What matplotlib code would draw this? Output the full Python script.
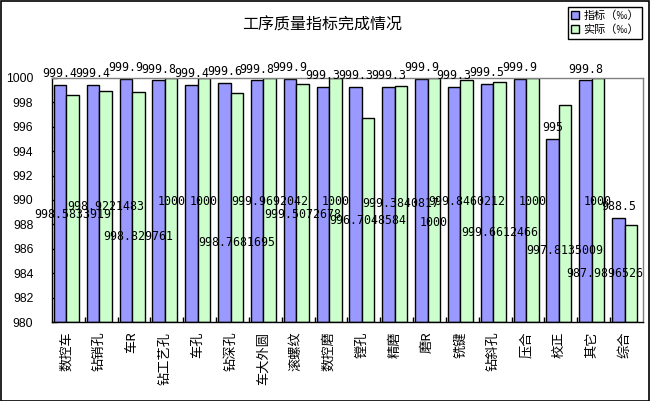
import matplotlib
matplotlib.use('Agg')
import matplotlib.pyplot as plt
from matplotlib.patches import Rectangle
import numpy as np

plt.rcParams['font.family'] = ['Noto Sans CJK SC', 'DejaVu Sans']

# data
categories = ['数控车', '钻销孔', '车R', '钻工艺孔', '车孔', '钻深孔', '车大外圆', '滚螺纹', '数控磨',
              '镗孔', '精磨', '磨R', '铣键', '钻斜孔', '压合', '校正', '其它', '综合']
target = [999.4, 999.4, 999.9, 999.8, 999.4, 999.6, 999.8, 999.9, 999.3,
          999.3, 999.3, 999.9, 999.3, 999.5, 999.9, 995, 999.8, 988.5]
actual = [998.5833919, 998.9221483, 998.829761, 1000, 1000, 998.7681695, 999.9692042, 999.5072678, 1000,
          996.7048584, 999.3840817, 1000, 999.8460212, 999.6612466, 1000, 997.8135009, 1000, 987.9896526]
target_text = ['999.4', '999.4', '999.9', '999.8', '999.4', '999.6', '999.8', '999.9', '999.3',
               '999.3', '999.3', '999.9', '999.3', '999.5', '999.9', '995', '999.8', '988.5']
actual_text = ['998.5833919', '998.9221483', '998.829761', '1000', '1000', '998.7681695', '999.9692042',
               '999.5072678', '1000', '996.7048584', '999.3840817', '1000', '999.8460212', '999.6612466',
               '1000', '997.8135009', '1000', '987.9896526']
# where the (oddly placed) labels of the actual series sit on the y axis
actual_label_y = [988.8, 989.45, 987.0, 989.9, 989.9, 986.5, 989.9, 988.8, 989.9,
                  988.3, 989.7, 988.15, 989.9, 987.35, 989.9, 985.85, 989.9, 983.95]

blue = '#9999FF'
green = '#CCFFCC'

fig = plt.figure(figsize=(6.5, 4.01), dpi=100)
ax = fig.add_axes([0.08, 0.197, 0.9092, 0.6085])

x = np.arange(len(categories))
w = 0.38
xmax = 17.56
bars_t = ax.bar(x - w / 2, np.array(target) - 980, w, bottom=980, color=blue,
                edgecolor='black', linewidth=1.0, label='指标（‰）', zorder=2)
bars_a = ax.bar(x + w / 2, np.array(actual) - 980, w, bottom=980, color=green,
                edgecolor='black', linewidth=1.0, label='实际（‰）', zorder=2)

for i in range(len(categories)):
    ax.annotate(target_text[i], (x[i] - w / 2, target[i]), xytext=(0, 3.5),
                textcoords='offset points', ha='center', va='bottom',
                family='DejaVu Sans Mono', fontsize=8.4, zorder=4, annotation_clip=False)
    if i == len(categories) - 1:
        # the last label is pushed back inside the plot area
        ax.text(xmax, actual_label_y[i], actual_text[i], ha='right', va='center',
                family='DejaVu Sans Mono', fontsize=8.4, zorder=4)
    else:
        ax.text(x[i] + w / 2, actual_label_y[i], actual_text[i], ha='center', va='center',
                family='DejaVu Sans Mono', fontsize=8.4, zorder=4)

ax.set_ylim(980, 1000)
ax.set_xlim(-0.44, xmax)
ax.set_yticks(np.arange(980, 1001, 2))
ax.set_yticklabels([str(v) for v in range(980, 1001, 2)], family='Liberation Sans', fontsize=8.8)
ax.tick_params(axis='y', direction='in', length=3.6, width=1, pad=13.5)

ax.set_xticks(x)
ax.set_xticklabels(categories, rotation=90, va='top', ha='center', fontsize=9.5)
ax.tick_params(axis='x', which='major', length=0, pad=7)
ax.set_xticks(np.arange(1, 18) - 0.44, minor=True)
ax.tick_params(axis='x', which='minor', direction='in', length=3.6, width=1)

for side in ['top', 'right']:
    ax.spines[side].set_color('#808080')
    ax.spines[side].set_linewidth(1)
for side in ['left', 'bottom']:
    ax.spines[side].set_color('black')
    ax.spines[side].set_linewidth(1)

fig.text(0.495, 0.938, '工序质量指标完成情况', ha='center', va='center', fontsize=11.5)

fig.legend(handles=[bars_t, bars_a], loc='upper right', bbox_to_anchor=(0.988, 0.983),
           fontsize=8, frameon=True, fancybox=False, edgecolor='black', framealpha=1,
           handlelength=0.7, handleheight=0.7, handletextpad=0.4, borderpad=0.3,
           labelspacing=0.35, borderaxespad=0)

fig.patches.append(Rectangle((0.001, 0.001), 0.997, 0.997, transform=fig.transFigure,
                             fill=False, edgecolor='black', linewidth=1.2))

fig.savefig('out.png', dpi=100)
